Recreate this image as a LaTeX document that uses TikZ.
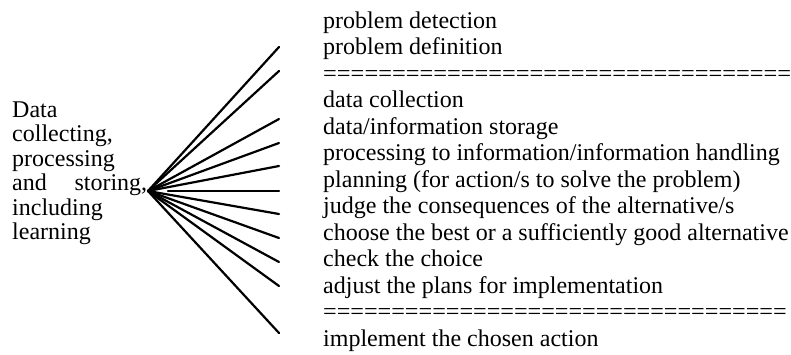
\documentclass[tikz,border=0pt]{standalone}
\usepackage{fontspec}
\setmainfont{Liberation Serif}
\begin{document}
\begin{tikzpicture}[x=1pt,y=-1pt,
  spoke/.style={line width=2.2pt, line cap=round},
  item/.style={anchor=base west, inner sep=0pt, font=\fontsize{24}{26.5}\selectfont},
  source/.style={anchor=base west, inner sep=0pt, text width=136pt, align=left,
    font=\fontsize{24}{24.5}\selectfont}]
\useasboundingbox (0,0) rectangle (791,354);

% left-hand description (the fourth line is set justified)
\node[source] (src) at (12,117)
  {Data\\collecting,\\processing\\\makebox[135pt][l]{and\hfill storing,}\\including\\learning};

% separators made of equals signs
\def\eqrow{==================================}
\def\rulea{\scalebox{1.017}[1]{\eqrow}}
\def\ruleb{\scalebox{1.007}[1]{\eqrow}}

% list of activities
\foreach \t [count=\i] in {problem detection,problem definition,\rulea,
  data collection,data/information storage,
  processing to information/information handling,
  planning (for action/s to solve the problem),
  judge the consequences of the alternative/s,
  choose the best or a sufficiently good alternative,
  check the choice,adjust the plans for implementation,\ruleb,
  implement the chosen action}
  \node[item] (r\i) at (323,{28+26.5*(\i-1)}) {\t};

% fan of spokes
\coordinate (hub) at (148,191);
\coordinate (hubgap) at (168,191);
\foreach \y [count=\i] in {47,71,119,143,166,214,238,262,286,333}
  \coordinate (e\i) at (279,\y);
\coordinate (emid) at (279,191);
\foreach \i in {1,...,10}
  \draw[spoke] (hub) -- (e\i);
\draw[spoke] (hubgap) -- (emid);
\end{tikzpicture}
\end{document}
